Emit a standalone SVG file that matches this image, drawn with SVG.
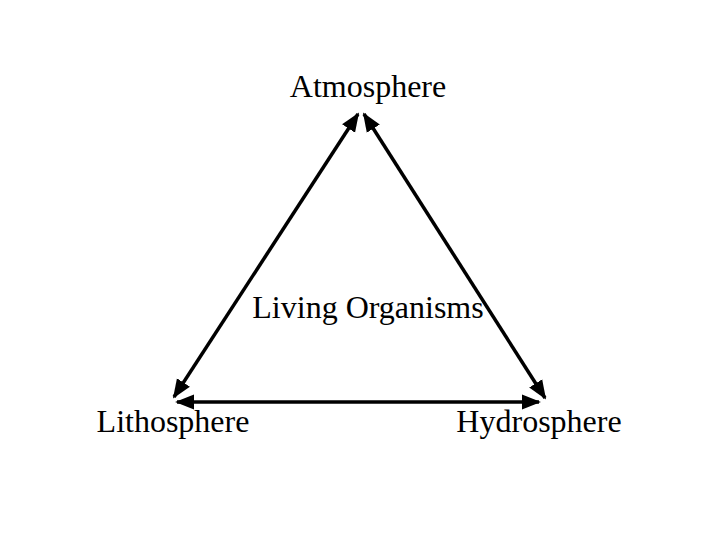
<svg xmlns="http://www.w3.org/2000/svg" width="720" height="540" viewBox="0 0 720 540">
<style>
text{font-family:"Liberation Serif","Times New Roman",serif;font-size:32px;fill:#000}
.c{stroke:#000;stroke-width:3.5;fill:none}
</style>
<defs>
<marker id="ah" viewBox="0 0 10 10" refX="9" refY="5" markerWidth="5.5" markerHeight="5.5" orient="auto-start-reverse" markerUnits="strokeWidth">
<path d="M0,1 L10,5 L0,9 Z" fill="#000"/>
</marker>
</defs>
<rect width="720" height="540" fill="#fff"/>
<g id="connectors">
<line class="c" x1="174" y1="397" x2="358" y2="114" marker-start="url(#ah)" marker-end="url(#ah)"/>
<line class="c" x1="364" y1="114" x2="545" y2="398" marker-start="url(#ah)" marker-end="url(#ah)"/>
<line class="c" x1="177" y1="402" x2="539" y2="402" marker-start="url(#ah)" marker-end="url(#ah)"/>
</g>
<g id="atmosphere"><text x="368" y="97" text-anchor="middle">Atmosphere</text></g>
<g id="living"><text x="368" y="318" text-anchor="middle">Living Organisms</text></g>
<g id="lithosphere"><text x="173" y="432" text-anchor="middle">Lithosphere</text></g>
<g id="hydrosphere"><text x="539" y="432" text-anchor="middle">Hydrosphere</text></g>
</svg>
